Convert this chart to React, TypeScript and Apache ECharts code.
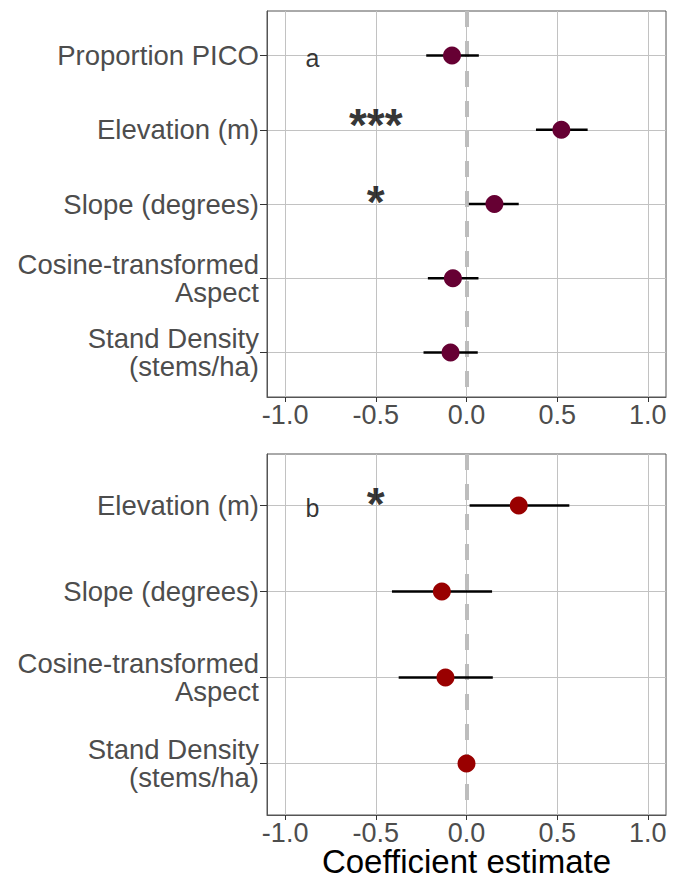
import React, { useEffect, useRef } from "react";
import * as echarts from "echarts";

const catsA = ["Proportion PICO", "Elevation (m)", "Slope (degrees)", "Cosine-transformed\nAspect", "Stand Density\n(stems/ha)"];
const estA = [-0.08, 0.523, 0.154, -0.075, -0.088];
const loA = [-0.222, 0.383, 0.013, -0.213, -0.237];
const hiA = [0.068, 0.668, 0.288, 0.066, 0.062];

const catsB = ["Elevation (m)", "Slope (degrees)", "Cosine-transformed\nAspect", "Stand Density\n(stems/ha)"];
const estB = [0.288, -0.136, -0.116, 0.0];
const loB = [0.017, -0.411, -0.374, -0.002];
const hiB = [0.567, 0.141, 0.145, 0.002];

const xTicks = [-1, -0.5, 0, 0.5, 1];
const refValue = 0;

// annotations: [x, row, text]
const annA: [number, number, string][] = [[-0.85, 1, "a"], [-0.5, 2, "***"], [-0.5, 3, "*"]];
const annB: [number, number, string][] = [[-0.85, 1, "b"], [-0.5, 1, "*"]];

const FONT = "'Liberation Sans', Arial, sans-serif";
const TXT = "#4d4d4d";

export default function App() {
  const ref = useRef<HTMLDivElement>(null);
  useEffect(() => {
    document.body.style.margin = "0";
    const chart = echarts.init(ref.current!, null, { renderer: "svg" });

    const mkX = (idx: number, withName: boolean) => ({
      type: "value",
      gridIndex: idx,
      min: -1.1,
      max: 1.1,
      axisLine: { show: true, onZero: false, lineStyle: { color: "#555", width: 1 } },
      axisTick: { show: true, length: 5, lineStyle: { color: "#333" }, customValues: xTicks },
      axisLabel: {
        customValues: xTicks,
        formatter: (v: number) => v.toFixed(1),
        fontSize: 27,
        lineHeight: 22,
        color: TXT,
        fontFamily: FONT,
        margin: 7,
      },
      splitLine: { show: true, lineStyle: { color: "#c2c2c2", width: 1 } },
      name: withName ? "Coefficient estimate" : "",
      nameLocation: "middle",
      nameGap: 33,
      nameMoveOverlap: false,
      nameTextStyle: { fontSize: 33, lineHeight: 26, color: "#000", fontFamily: FONT },
    });

    const mkY = (idx: number, cats: string[]) => {
      const vals = cats.map((_, i) => i + 1);
      return {
        type: "value",
        gridIndex: idx,
        inverse: true,
        min: 0.4,
        max: cats.length + 0.6,
        axisLine: { show: true, onZero: false, lineStyle: { color: "#555", width: 1 } },
        axisTick: { show: true, length: 7, lineStyle: { color: "#333" }, customValues: vals },
        axisLabel: {
          customValues: vals,
          formatter: (v: number) => cats[Math.round(v) - 1] ?? "",
          fontSize: 27.5,
          lineHeight: 28,
          color: TXT,
          fontFamily: FONT,
          margin: 8,
          align: "right",
        },
        splitLine: { show: true, lineStyle: { color: "#c2c2c2", width: 1 } },
      };
    };

    const errSeries = (idx: number, lo: number[], hi: number[]) => ({
      type: "custom",
      xAxisIndex: idx,
      yAxisIndex: idx,
      z: 6,
      silent: true,
      data: lo.map((l, i) => [l, hi[i], i + 1]),
      encode: { x: [0, 1], y: 2 },
      renderItem: (params: any, api: any) => {
        const y = api.value(2);
        const p1 = api.coord([api.value(0), y]);
        const p2 = api.coord([api.value(1), y]);
        return {
          type: "line",
          shape: { x1: p1[0], y1: p1[1], x2: p2[0], y2: p2[1] },
          style: { stroke: "#000", lineWidth: 2.5 },
        };
      },
      markLine: {
        silent: true,
        symbol: ["none", "none"],
        label: { show: false },
        lineStyle: { type: [16, 14], color: "#bdbdbd", width: 4 },
        data: [{ xAxis: refValue }],
      },
    });

    const ptSeries = (idx: number, est: number[], color: string) => ({
      type: "scatter",
      xAxisIndex: idx,
      yAxisIndex: idx,
      z: 7,
      symbolSize: 18,
      itemStyle: { color, opacity: 1 },
      data: est.map((e, i) => [e, i + 1]),
    });

    const annSeries = (idx: number, ann: [number, number, string][]) => ({
      type: "scatter",
      xAxisIndex: idx,
      yAxisIndex: idx,
      z: 8,
      symbolSize: 1,
      itemStyle: { color: "rgba(0,0,0,0)" },
      data: ann.map((a) => {
        const star = a[2].includes("*");
        const triple = a[2].length > 1;
        return {
          value: [a[0], a[1]],
          label: {
            show: true,
            position: "inside",
            formatter: a[2],
            fontSize: star ? 46 : 25,
            fontWeight: star ? "bold" : "normal",
            color: "#000",
            fontFamily: FONT,
            offset: star ? [0, triple ? -5 : -2] : [0, 2],
          },
        };
      }),
    });

    chart.setOption({
      animation: false,
      backgroundColor: "#fff",
      grid: [
        { left: 267, right: 15, top: 11, height: 386, show: true, borderColor: "#555", borderWidth: 1, outerBoundsMode: "none" },
        { left: 267, right: 15, top: 454, height: 361, show: true, borderColor: "#555", borderWidth: 1, outerBoundsMode: "none" },
      ],
      xAxis: [mkX(0, false), mkX(1, true)],
      yAxis: [mkY(0, catsA), mkY(1, catsB)],
      series: [
        errSeries(0, loA, hiA),
        ptSeries(0, estA, "#660033"),
        annSeries(0, annA),
        errSeries(1, loB, hiB),
        ptSeries(1, estB, "#990000"),
        annSeries(1, annB),
      ],
    });
    return () => chart.dispose();
  }, []);
  return <div ref={ref} style={{ width: 681, height: 881 }} />;
}
